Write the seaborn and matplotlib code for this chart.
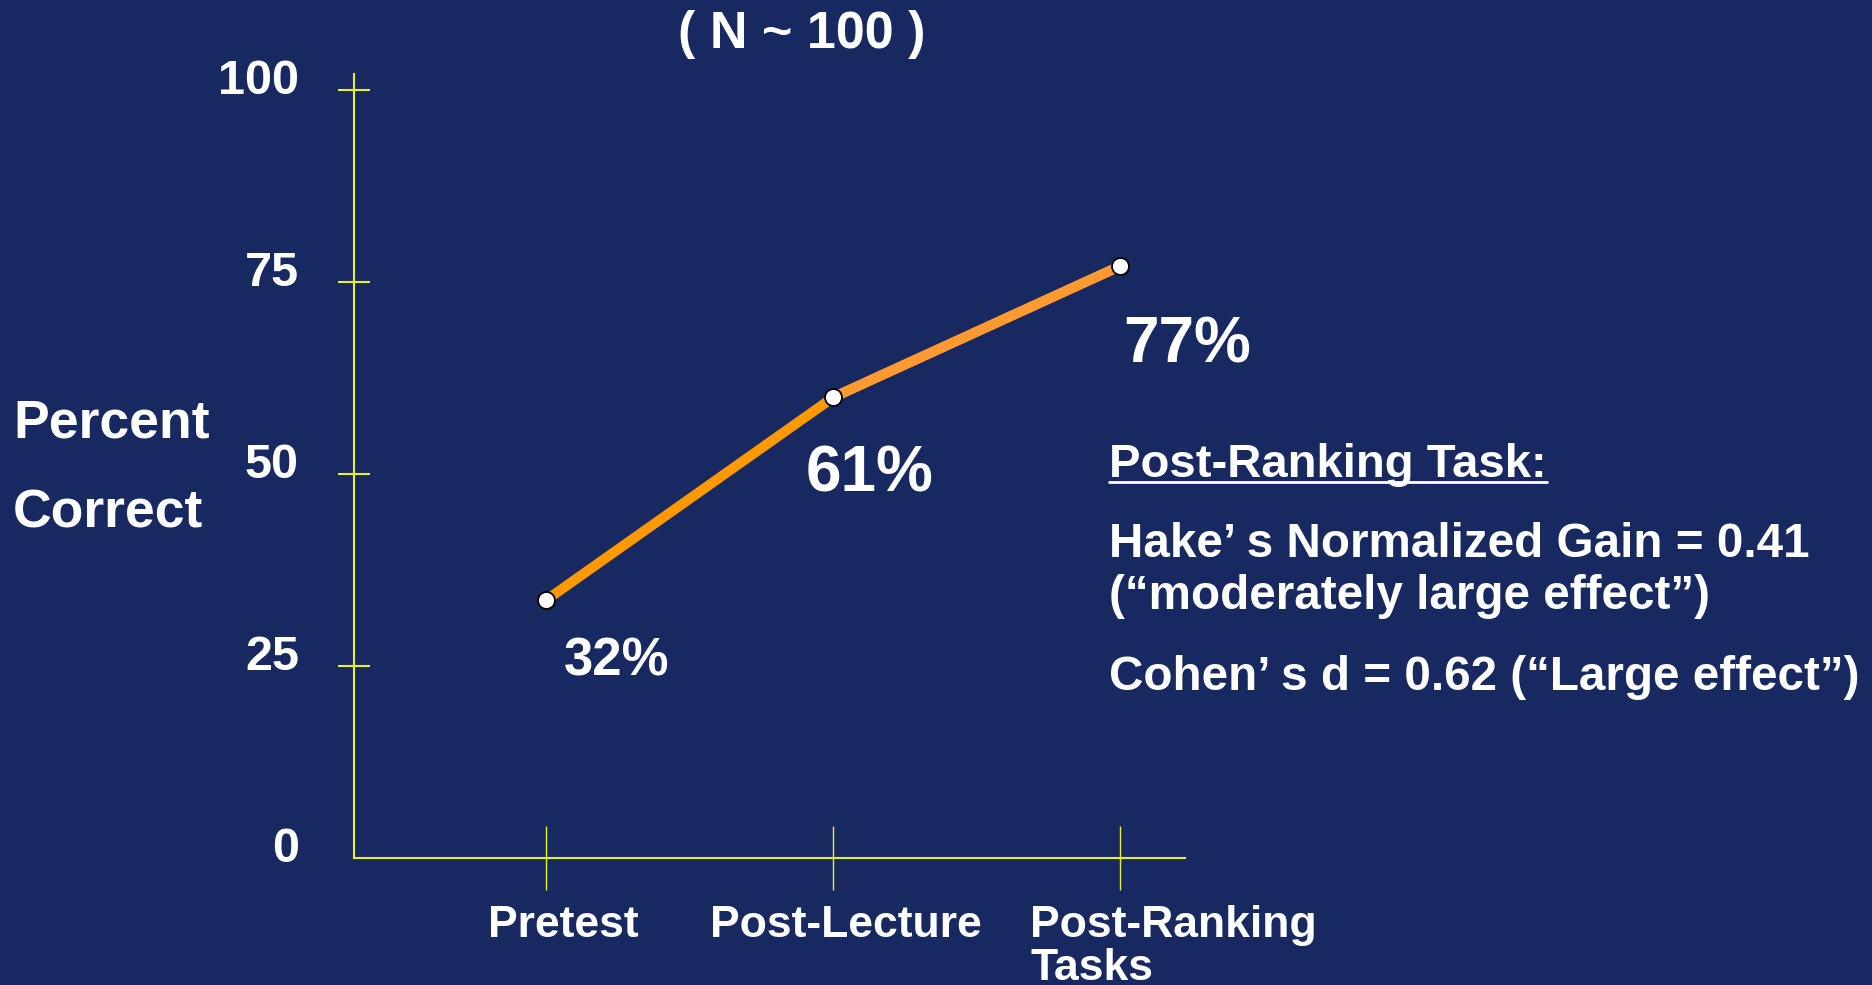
import numpy as np
import pandas as pd
import matplotlib.pyplot as plt
import seaborn as sns
from matplotlib.lines import Line2D

# values
stages = ['Pretest', 'Post-Lecture', 'Post-Ranking\nTasks']
percent_correct = [33.6, 60.0, 77.1]
point_labels = ['32%', '61%', '77%']
y_ticks = [0, 25, 50, 75, 100]
title_text = '( N ~ 100 )'
ylabel_lines = ['Percent', 'Correct']
notes_head = 'Post-Ranking Task:'
notes = ['Hake’ s Normalized Gain = 0.41',
         '(“moderately large effect”)',
         'Cohen’ s d = 0.62 (“Large effect”)']

bg = '#182860'
yellow = '#EEEE22'
W, H = 1872, 985

sns.set_theme(style='white')
plt.rcParams['font.family'] = ['Liberation Sans', 'DejaVu Sans']
plt.rcParams['font.weight'] = 'bold'

fig = plt.figure(figsize=(W / 100, H / 100), dpi=100, facecolor=bg)
ax = fig.add_axes([354 / W, (H - 858) / H, (1185 - 354) / W, (858 - 74) / H])
ax.set_facecolor(bg)

df = pd.DataFrame({'stage': stages, 'pct': percent_correct})

# line: first segment deeper orange, second a bit lighter
sns.lineplot(data=df, x='stage', y='pct', color='#FF9900', linewidth=7.2,
             sort=False, ax=ax)
ax.plot(df['stage'][1:], df['pct'][1:], color='#FF9A33', linewidth=7.2)
sns.scatterplot(data=df, x='stage', y='pct', s=150, color='white',
                edgecolor='black', linewidth=1.3, zorder=5, ax=ax, clip_on=False)

ax.set_xlim(-0.67, 2.225)
ax.set_ylim(0, 102.1)
ax.set_xticks(range(len(stages)))
ax.set_yticks(y_ticks[1:])
ax.set_xlabel('')
ax.set_ylabel('')

ax.tick_params(axis='y', direction='inout', length=23, width=1.5, color=yellow,
               left=True, labelleft=False)
ax.tick_params(axis='x', direction='inout', length=46, width=1, color=yellow,
               bottom=True, labelbottom=False)
ax.spines[['top', 'right']].set_visible(False)
for s in ['left', 'bottom']:
    ax.spines[s].set_color(yellow)
    ax.spines[s].set_linewidth(1.5)

# y tick labels sit a little above their ticks
for v in y_ticks:
    ax.annotate(str(v), xy=(0, v), xycoords=('axes fraction', 'data'),
                xytext=(-55, -4), textcoords='offset pixels',
                ha='right', va='baseline', color='white', fontsize=35,
                fontweight='bold', annotation_clip=False)

# x tick labels
lab_dx = [17, 13, -90]
lab_ha = ['center', 'center', 'left']
for i, lab in enumerate(stages):
    ax.annotate(lab, xy=(i, 0), xycoords=('data', 'axes fraction'),
                xytext=(lab_dx[i], -47), textcoords='offset pixels',
                ha=lab_ha[i], va='top', color='white', fontsize=32,
                fontweight='bold', linespacing=1.05, multialignment='left',
                annotation_clip=False)

# value labels next to the points
pt_off = [(18, -76), (-28, -94), (3, -97)]
pt_size = [38, 46, 46]
for i, lab in enumerate(point_labels):
    ax.annotate(lab, xy=(i, percent_correct[i]), xytext=pt_off[i],
                textcoords='offset pixels', ha='left', va='baseline',
                color='white', fontsize=pt_size[i], fontweight='bold')

fig.text(13 / W, 1 - 437 / H, ylabel_lines[0], va='baseline', color='white',
         fontsize=38.5, fontweight='bold')
fig.text(13 / W, 1 - 527 / H, ylabel_lines[1], va='baseline', color='white',
         fontsize=38.5, fontweight='bold')

fig.text(802 / W, 1 - 48 / H, title_text, ha='center', va='baseline',
         color='white', fontsize=37.5, fontweight='bold')

head = fig.text(1109 / W, 1 - 477 / H, notes_head, va='baseline',
                color='white', fontsize=34, fontweight='bold')
note_y = [557, 609, 690]
for t, yy in zip(notes, note_y):
    fig.text(1109 / W, 1 - yy / H, t, va='baseline', color='white',
             fontsize=34.3, fontweight='bold')

# underline the heading
fig.canvas.draw()
bb = head.get_window_extent()
fig.add_artist(Line2D([bb.x0 / W, bb.x1 / W], [(H - 482) / H] * 2,
                      color='white', linewidth=2, transform=fig.transFigure))

fig.savefig('out.png', dpi=100, facecolor=bg)
